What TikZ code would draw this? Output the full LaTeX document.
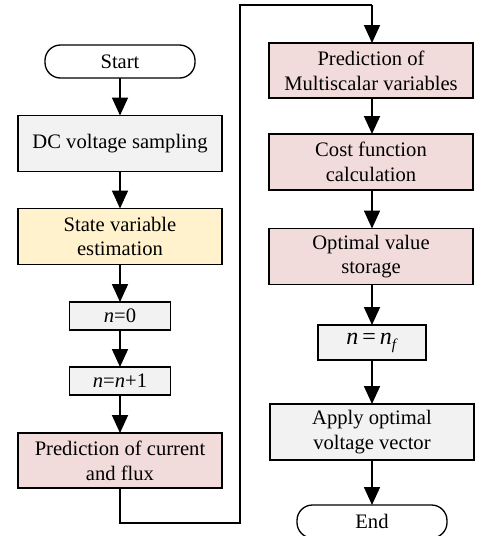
\documentclass[tikz,border=0pt]{standalone}
\usepackage{fontspec}
\setmainfont{Liberation Serif}
\usetikzlibrary{arrows.meta}
\definecolor{boxgray}{HTML}{F2F2F2}
\definecolor{boxyellow}{HTML}{FFF2CC}
\definecolor{boxpink}{HTML}{F2DCDB}
\tikzset{
  base/.style={draw=black, line width=1.3pt, inner sep=0pt, outer sep=0pt, align=center,
    font=\fontsize{20.6}{24.8}\selectfont},
  term/.style={base, fill=white, rounded corners=15.5pt, minimum width=150pt, minimum height=33pt},
  widebox/.style={base, minimum width=204pt, minimum height=56pt},
  smallbox/.style={base, fill=boxgray, minimum width=101pt, minimum height=28pt},
  gray/.style={fill=boxgray},
  yellow/.style={fill=boxyellow},
  pink/.style={fill=boxpink},
  flow/.style={line width=1.8pt, -{Triangle[width=16pt,length=18pt]}},
  loopline/.style={line width=1.8pt, line join=miter}
}
\begin{document}
\begin{tikzpicture}[x=1pt, y=-1pt]
\useasboundingbox (0,0) rectangle (477,536);
% left column
\node[term] (start) at (120,61.5) {Start};
\node[widebox, gray] (dc) at (120,143.5) {DC voltage sampling};
\node[widebox, yellow] (state) at (120,236.5) {State variable\\estimation};
\node[smallbox] (n0) at (120,316) {\textit{n}=0};
\node[smallbox] (n1) at (120,381) {\textit{n}=\textit{n}+1};
\node[widebox, pink, minimum height=55pt] (pcf) at (120,460.5) {Prediction of current\\and flux};
% right column
\node[widebox, pink, minimum height=55pt] (pm) at (371,70.5) {Prediction of\\Multiscalar variables};
\node[widebox, pink] (cost) at (371,162) {Cost function\\calculation};
\node[widebox, pink] (opt) at (371,256.5) {Optimal value\\storage};
\node[base, fill=boxgray, minimum width=108pt, minimum height=35pt, font=\fontsize{24}{28}\selectfont] (nf) at (372,342.5) {\textit{n}\,=\,\textit{n}\raisebox{-0.45ex}{\fontsize{15}{17}\selectfont\textit{f}}};
\node[widebox, gray] (apply) at (372,432) {Apply optimal\\voltage vector};
\node[term] (end) at (372,521.5) {End};
% connectors
\draw[flow] (start) -- (dc);
\draw[flow] (dc) -- (state);
\draw[flow] (state) -- (n0);
\draw[flow] (n0) -- (n1);
\draw[flow] (n1) -- (pcf);
\coordinate (l1) at (120,523);
\coordinate (l2) at (240,523);
\coordinate (l3) at (240,5);
\coordinate (l4) at (372,5);
\draw[loopline] (pcf.south) -- (l1) -- (l2) -- (l3) -- (l4);
\draw[flow] (l4) -- (372,43);
\draw[flow] (372,98) -- (372,134);
\draw[flow] (372,190) -- (372,228.5);
\draw[flow] (372,284.5) -- (nf);
\draw[flow] (nf) -- (apply);
\draw[flow] (apply) -- (end);
\end{tikzpicture}
\end{document}
